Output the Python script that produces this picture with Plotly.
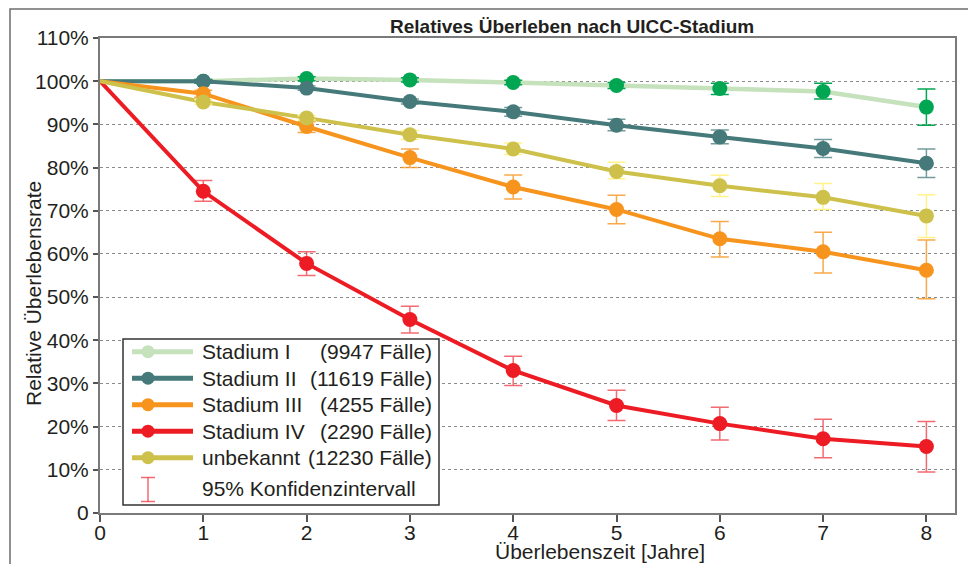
import plotly.graph_objects as go

# ---------------- data ----------------
years = [0, 1, 2, 3, 4, 5, 6, 7, 8]

series_names = ["Stadium I", "Stadium II", "Stadium III", "Stadium IV", "unbekannt"]
case_labels = ["(9947 Fälle)", "(11619 Fälle)", "(4255 Fälle)", "(2290 Fälle)", "(12230 Fälle)"]

stadium_1 = [100, 100.0, 100.6, 100.3, 99.7, 99.0, 98.3, 97.6, 94.0]
stadium_1_low = [None, 99.6, 100.1, 99.8, 99.2, 98.3, 96.9, 95.9, 89.8]
stadium_1_high = [None, 100.4, 101.0, 100.8, 100.2, 99.7, 99.5, 99.5, 98.2]

stadium_2 = [100, 100.0, 98.4, 95.3, 92.9, 89.8, 87.1, 84.4, 81.0]
stadium_2_low = [None, 99.6, 97.9, 94.7, 91.9, 88.5, 85.5, 82.3, 77.7]
stadium_2_high = [None, 100.4, 98.9, 95.9, 93.9, 91.2, 88.7, 86.5, 84.3]

stadium_3 = [100, 97.1, 89.5, 82.3, 75.5, 70.3, 63.5, 60.5, 56.2]
stadium_3_low = [None, 96.3, 88.1, 80.0, 72.7, 67.0, 59.3, 55.6, 49.6]
stadium_3_high = [None, 97.9, 90.6, 84.3, 78.3, 73.6, 67.5, 65.0, 63.2]

stadium_4 = [100, 74.5, 57.8, 44.8, 33.0, 24.9, 20.7, 17.2, 15.4]
stadium_4_low = [None, 72.2, 55.0, 41.7, 29.5, 21.4, 16.9, 12.8, 9.5]
stadium_4_high = [None, 77.0, 60.5, 47.9, 36.3, 28.4, 24.5, 21.7, 21.2]

unbekannt = [100, 95.2, 91.5, 87.6, 84.3, 79.1, 75.8, 73.1, 68.8]
unbekannt_low = [None, 94.7, 91.0, 86.5, 83.0, 77.4, 73.3, 70.3, 63.8]
unbekannt_high = [None, 95.7, 92.0, 88.6, 85.7, 81.2, 78.2, 76.3, 73.7]

y_tickvals = [0, 10, 20, 30, 40, 50, 60, 70, 80, 90, 100, 110]
y_ticktext = ["0", "10%", "20%", "30%", "40%", "50%", "60%", "70%", "80%", "90%", "100%", "110%"]

title_text = "Relatives Überleben nach UICC-Stadium"
x_title = "Überlebenszeit [Jahre]"
y_title = "Relative Überlebensrate"
ci_label = "95% Konfidenzintervall"

# ---------------- style ----------------
line_colors = ["#C5E2BC", "#46797A", "#F7941D", "#ED1C24", "#CDC14B"]
marker_colors = ["#00A651", "#46797A", "#F7941D", "#ED1C24", "#CDC14B"]
error_colors = ["#00A651", "rgba(70,121,122,0.75)", "rgba(247,148,29,0.8)",
                "rgba(237,28,36,0.65)", "#FFF38A"]
FONT = "Liberation Sans, Arial, sans-serif"
TXT = "#231F20"
FS = 21

# page body margin offset (figure sits 8px from the page corner)
OFF = 8
W, H = 976 - OFF, 564 - OFF
ML, MR, MT, MB = 100 - OFF, 21, 38 - OFF, 564 - 513
PW, PH = W - ML - MR, H - MT - MB


def px(x):
    """screen x pixel -> paper coordinate"""
    return (x - OFF - ML) / PW


def py(y):
    """screen y pixel -> paper coordinate"""
    return (H - MB - (y - OFF)) / PH


values = [stadium_1, stadium_2, stadium_3, stadium_4, unbekannt]
lows = [stadium_1_low, stadium_2_low, stadium_3_low, stadium_4_low, unbekannt_low]
highs = [stadium_1_high, stadium_2_high, stadium_3_high, stadium_4_high, unbekannt_high]

fig = go.Figure()

for i, name in enumerate(series_names):
    v = values[i]
    fig.add_trace(go.Scatter(
        x=years, y=v, mode="lines", name=name, showlegend=False,
        line=dict(color=line_colors[i], width=4.5 if i == 0 else 4),
        hoverinfo="skip"))
    xs = years[1:]
    vs = v[1:]
    up = [h - y for h, y in zip(highs[i][1:], vs)]
    dn = [y - l for l, y in zip(lows[i][1:], vs)]
    fig.add_trace(go.Scatter(
        x=xs, y=vs, mode="markers", name=name, showlegend=False,
        marker=dict(color=marker_colors[i], size=15, line=dict(width=0)),
        error_y=dict(type="data", symmetric=False, array=up, arrayminus=dn,
                     color=error_colors[i], thickness=1.5, width=9)))

shapes = []
annotations = []

# outer frame
shapes.append(dict(type="rect", xref="paper", yref="paper",
                   x0=px(10), x1=px(973), y0=py(580), y1=py(9),
                   line=dict(color="#6d6d6d", width=1.5), fillcolor="rgba(0,0,0,0)",
                   layer="below"))

# legend box
shapes.append(dict(type="rect", xref="paper", yref="paper",
                   x0=px(123), x1=px(439), y0=py(505), y1=py(339),
                   line=dict(color="#333333", width=1.5), fillcolor="white",
                   layer="above"))

row_y = [351.7, 378.2, 404.7, 431.2, 457.7]
legend_marker_colors = ["#C5E2BC", "#46797A", "#F7941D", "#ED1C24", "#CDC14B"]
for i, name in enumerate(series_names):
    yc = row_y[i]
    shapes.append(dict(type="line", xref="paper", yref="paper",
                       x0=px(132), x1=px(193), y0=py(yc), y1=py(yc),
                       line=dict(color=line_colors[i], width=5), layer="above"))
    shapes.append(dict(type="circle", xref="paper", yref="paper",
                       xsizemode="pixel", ysizemode="pixel",
                       xanchor=px(148), yanchor=py(yc),
                       x0=-6.5, x1=6.5, y0=-6.5, y1=6.5,
                       fillcolor=legend_marker_colors[i], line=dict(width=0),
                       layer="above"))
    annotations.append(dict(xref="paper", yref="paper", x=px(200), y=py(yc),
                            text=name, showarrow=False, xanchor="left", yanchor="middle",
                            font=dict(family=FONT, size=FS, color=TXT)))
    annotations.append(dict(xref="paper", yref="paper", x=px(434), y=py(yc),
                            text=case_labels[i], showarrow=False, xanchor="right",
                            yanchor="middle",
                            font=dict(family=FONT, size=FS, color=TXT)))

# CI legend symbol
ci_y = 488
ci_col = "rgba(237,28,36,0.65)"
shapes.append(dict(type="line", xref="paper", yref="paper",
                   x0=px(148), x1=px(148), y0=py(477.5), y1=py(501.5),
                   line=dict(color=ci_col, width=1.5), layer="above"))
for yy in (477.5, 501.5):
    shapes.append(dict(type="line", xref="paper", yref="paper",
                       x0=px(141), x1=px(155), y0=py(yy), y1=py(yy),
                       line=dict(color=ci_col, width=1.5), layer="above"))
annotations.append(dict(xref="paper", yref="paper", x=px(200), y=py(ci_y),
                        text=ci_label, showarrow=False, xanchor="left", yanchor="middle",
                        font=dict(family=FONT, size=FS, color=TXT)))

# titles
annotations.append(dict(xref="paper", yref="paper", x=px(571.5), y=py(26.5),
                        text="<b>" + title_text + "</b>", showarrow=False,
                        xanchor="center", yanchor="middle",
                        font=dict(family=FONT, size=19, color=TXT)))
annotations.append(dict(xref="paper", yref="paper", x=px(600), y=py(551),
                        text=x_title, showarrow=False, xanchor="center", yanchor="middle",
                        font=dict(family=FONT, size=FS, color=TXT)))
annotations.append(dict(xref="paper", yref="paper", x=px(33), y=py(294),
                        text=y_title, showarrow=False, xanchor="center", yanchor="middle",
                        textangle=-90,
                        font=dict(family=FONT, size=FS, color=TXT)))

fig.update_layout(
    width=W, height=H,
    margin=dict(l=ML, r=MR, t=MT, b=MB, pad=0),
    paper_bgcolor="white", plot_bgcolor="white",
    showlegend=False,
    shapes=shapes, annotations=annotations,
    font=dict(family=FONT, size=FS, color=TXT),
)

fig.update_xaxes(
    range=[0, (955 - 100) / 103.3], tickvals=[0, 1, 2, 3, 4, 5, 6, 7, 8],
    showgrid=False, zeroline=False,
    showline=True, linecolor="#7a7a7a", linewidth=2, mirror=True,
    ticks="outside", ticklen=7, tickcolor="#555555", tickwidth=1.5,
    ticklabelstandoff=-7,
    tickfont=dict(family=FONT, size=FS, color=TXT),
)
fig.update_yaxes(
    range=[0, 110], tickvals=y_tickvals, ticktext=y_ticktext,
    showgrid=True, gridcolor="#8a8a8a", gridwidth=1, griddash="dot",
    zeroline=False,
    showline=True, linecolor="#7a7a7a", linewidth=2, mirror=True,
    ticks="outside", ticklen=5, tickcolor="#555555", tickwidth=1.5,
    tickfont=dict(family=FONT, size=FS, color=TXT),
)

fig.write_html("out.html")
